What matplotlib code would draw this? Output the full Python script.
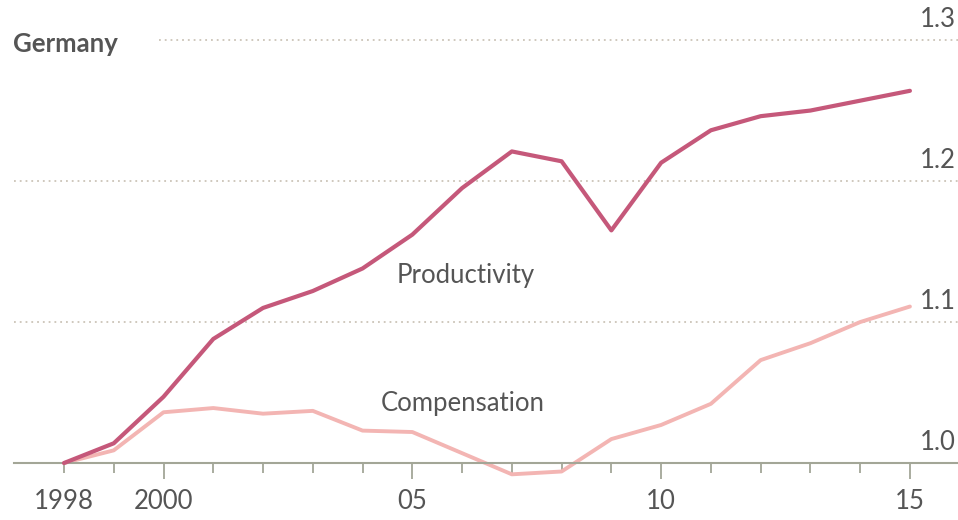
import numpy as np
import matplotlib.pyplot as plt
from matplotlib.transforms import blended_transform_factory

plt.rcParams['font.family'] = ['Lato', 'DejaVu Sans']

years = np.arange(1998, 2016)
productivity = [1.000, 1.014, 1.047, 1.088, 1.110, 1.122, 1.138, 1.162, 1.195, 1.221,
                1.214, 1.165, 1.213, 1.236, 1.246, 1.250, 1.257, 1.264]
compensation = [1.000, 1.009, 1.036, 1.039, 1.035, 1.037, 1.023, 1.022, 1.007, 0.992,
                0.994, 1.017, 1.027, 1.042, 1.073, 1.085, 1.100, 1.111]
y_ticks = [1.0, 1.1, 1.2, 1.3]
y_labels = ['1.0', '1.1', '1.2', '1.3']
major_years = [2000, 2005, 2010, 2015]
major_labels = ['2000', '05', '10', '15']

text_col = '#555555'
axis_col = '#a3a697'
grid_col = '#cbc4b8'

fig = plt.figure(figsize=(9.58, 5.20), dpi=100)
ax = fig.add_axes([0, 0, 1, 1])
ax.set_xlim(1996.714, 2015.966)
ax.set_ylim(0.9596, 1.3284)

for s in ['left', 'right', 'top']:
    ax.spines[s].set_visible(False)
ax.spines['bottom'].set_position(('data', 1.0))
ax.spines['bottom'].set_bounds(1997.0, 2015.966)
ax.spines['bottom'].set_color(axis_col)
ax.spines['bottom'].set_linewidth(1.5)
ax.yaxis.set_visible(False)

# grid lines (top one leaves room for the title)
for v in y_ticks[1:]:
    start = 1999.9 if v == 1.3 else 1997.0
    ax.hlines(v, start, 2015.966, colors=grid_col, linestyles=(0, (1, 2.2)), linewidth=1.3, zorder=1)

ax.set_xticks(major_years, labels=major_labels)
ax.set_xticks(years, labels=['1998'] + [''] * (len(years) - 1), minor=True)
ax.tick_params(axis='x', which='major', length=11.5, width=1.3, color=axis_col,
               labelsize=18.5, labelcolor=text_col, pad=7)
ax.tick_params(axis='x', which='minor', length=7.2, width=1.3, color=axis_col,
               labelsize=18.5, labelcolor=text_col, pad=11.3)

ax.plot(years, productivity, color='#c5587a', linewidth=3.0, solid_capstyle='round', zorder=3)
ax.plot(years, compensation, color='#f3b5b3', linewidth=2.8, solid_capstyle='round', zorder=2)

tr = blended_transform_factory(ax.transAxes, ax.transData)
for v, lab in zip(y_ticks, y_labels):
    ax.text(0.960, v + 0.0055, lab, transform=tr, ha='left', va='bottom',
            fontsize=18.5, color=text_col)

ax.text(2006.08, 1.133, 'Productivity', ha='center', va='center', fontsize=18.5, color=text_col)
ax.text(2006.02, 1.042, 'Compensation', ha='center', va='center', fontsize=18.5, color=text_col)

fig.text(0.014, 0.915, 'Germany', ha='left', va='center', fontsize=18.5,
         fontweight='bold', color='#555555')

fig.savefig('out.png', dpi=100)
